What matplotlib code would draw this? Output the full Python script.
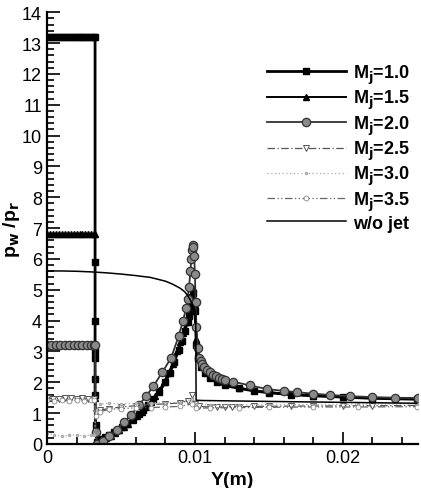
import matplotlib
matplotlib.use('Agg')
import matplotlib.pyplot as plt
from matplotlib.ticker import MultipleLocator, FixedLocator

plt.rcParams['font.family'] = ['Liberation Sans Narrow', 'Liberation Sans', 'DejaVu Sans']
plt.rcParams['mathtext.fontset'] = 'custom'
plt.rcParams['mathtext.rm'] = 'Liberation Sans Narrow:bold'
plt.rcParams['mathtext.it'] = 'Liberation Sans Narrow:bold'
plt.rcParams['mathtext.bf'] = 'Liberation Sans Narrow:bold'

# M=1.0 (square)
x_m10 = [0, 0.0002, 0.0004, 0.0006, 0.0008, 0.0010, 0.0012, 0.0014, 0.0016, 0.0018, 0.0020,
         0.0022, 0.0024, 0.0026, 0.0028, 0.0030, 0.0032, 0.00325, 0.00325, 0.00325, 0.00325,
         0.00325, 0.00325, 0.00325, 0.00328, 0.0034, 0.0036, 0.0039, 0.0042, 0.0045, 0.0048,
         0.0051, 0.0054, 0.0058, 0.0062, 0.0065, 0.0068, 0.0072, 0.0076, 0.0080, 0.0083,
         0.0086, 0.0089, 0.0091, 0.0093, 0.0095, 0.0096, 0.0097, 0.0098, 0.0099, 0.0100,
         0.0101, 0.0102, 0.0104, 0.0107, 0.0110, 0.0115, 0.0120, 0.0130, 0.0140, 0.0150,
         0.0165, 0.0180, 0.0200, 0.0220, 0.0250]
y_m10 = [13.2, 13.2, 13.2, 13.2, 13.2, 13.2, 13.2, 13.2, 13.2, 13.2, 13.2,
         13.2, 13.2, 13.2, 13.2, 13.2, 13.2, 13.2, 5.9, 4.0, 3.0, 2.8,
         2.1, 1.6, 0.6, 0.08, 0.15, 0.22, 0.3, 0.38, 0.46,
         0.55, 0.65, 0.8, 0.98, 1.1, 1.25, 1.45, 1.7, 2.0, 2.3,
         2.65, 3.05, 3.35, 3.65, 3.95, 4.15, 4.4, 4.75, 4.9, 4.3,
         3.2, 2.8, 2.5, 2.3, 2.15, 2.0, 1.9, 1.8, 1.72, 1.66,
         1.6, 1.56, 1.52, 1.48, 1.45]

# M=1.5 (triangle up)
x_m15 = [0, 0.0002, 0.0004, 0.0006, 0.0008, 0.0010, 0.0012, 0.0014, 0.0016, 0.0018, 0.0020,
         0.0022, 0.0024, 0.0026, 0.0028, 0.0030, 0.0032, 0.00325, 0.00325, 0.00328, 0.0034,
         0.0037, 0.0040, 0.0043, 0.0046, 0.0049, 0.0052, 0.0055, 0.0058, 0.0061, 0.0064,
         0.0067, 0.0070, 0.0073, 0.0076, 0.0079, 0.0082, 0.0085, 0.0088, 0.0090, 0.0092,
         0.0094, 0.0096, 0.0097, 0.0098, 0.0099, 0.0100, 0.0101, 0.0102, 0.0104, 0.0107,
         0.0110, 0.0115, 0.0120, 0.0130, 0.0140, 0.0150, 0.0165, 0.0180, 0.0200, 0.0220, 0.0250]
y_m15 = [6.8, 6.8, 6.8, 6.8, 6.8, 6.8, 6.8, 6.8, 6.8, 6.8, 6.8,
         6.8, 6.8, 6.8, 6.8, 6.8, 6.8, 6.8, 1.5, 0.4, 0.05,
         0.1, 0.18, 0.27, 0.36, 0.45, 0.55, 0.66, 0.78, 0.92, 1.05,
         1.2, 1.36, 1.55, 1.75, 2.0, 2.3, 2.6, 3.0, 3.3, 3.6,
         3.95, 4.35, 4.6, 4.9, 5.05, 4.5, 3.4, 2.9, 2.55, 2.35,
         2.2, 2.05, 1.95, 1.82, 1.74, 1.68, 1.62, 1.57, 1.53, 1.49, 1.46]

# M=2.0 (circle)
x_m20 = [0, 0.0003, 0.0006, 0.0009, 0.0012, 0.0015, 0.0018, 0.0021, 0.0024, 0.0027, 0.0030,
         0.0032, 0.00325, 0.00328, 0.0034, 0.0038, 0.0042, 0.0047, 0.0052, 0.0057, 0.0062,
         0.0067, 0.0072, 0.0078, 0.0084, 0.0089, 0.0092, 0.0094, 0.0095, 0.0096, 0.0097,
         0.00975, 0.0098, 0.00985, 0.0099, 0.00995, 0.0100, 0.01005, 0.0101, 0.0102, 0.0103,
         0.0104, 0.0105, 0.0106, 0.0108, 0.0110, 0.0112, 0.0114, 0.0116, 0.0118, 0.0120,
         0.0126, 0.0137, 0.0149, 0.0160, 0.0169, 0.0180, 0.0191, 0.0205, 0.0220, 0.0235, 0.0251]
y_m20 = [3.2, 3.2, 3.2, 3.2, 3.2, 3.2, 3.2, 3.2, 3.2, 3.2, 3.2,
         3.2, 3.2, 0.4, 0.0, 0.1, 0.25, 0.45, 0.7, 0.95, 1.25,
         1.55, 1.88, 2.33, 2.8, 3.5, 4.0, 4.4, 4.7, 5.1, 5.6,
         6.0, 6.3, 6.45, 6.4, 6.1, 5.5, 4.6, 3.8, 3.1, 2.8,
         2.68, 2.58, 2.5, 2.4, 2.32, 2.25, 2.2, 2.15, 2.11, 2.08,
         2.02, 1.9, 1.78, 1.72, 1.68, 1.63, 1.59, 1.55, 1.52, 1.5, 1.49]

# M=2.5 (open triangle down, dash-dot)
x_m25 = [0, 0.0004, 0.0008, 0.0012, 0.0016, 0.0020, 0.0024, 0.0028, 0.0032, 0.0033, 0.0036,
         0.0042, 0.0050, 0.0060, 0.0070, 0.0080, 0.0090, 0.0095, 0.0098, 0.0100, 0.0103,
         0.0110, 0.0115, 0.0120, 0.0125, 0.0130, 0.0140, 0.0150, 0.0165, 0.0180, 0.0200,
         0.0220, 0.0250]
y_m25 = [1.48, 1.47, 1.47, 1.48, 1.48, 1.47, 1.48, 1.47, 1.47, 1.0, 1.1,
         1.15, 1.2, 1.24, 1.28, 1.3, 1.33, 1.4, 1.58, 1.3, 1.22,
         1.2, 1.2, 1.2, 1.21, 1.21, 1.22, 1.22, 1.23, 1.23, 1.24,
         1.24, 1.25]

# M=3.0 (dotted)
x_m30 = [0, 0.0005, 0.0010, 0.0015, 0.0020, 0.0025, 0.0030, 0.0032, 0.0033, 0.0036, 0.0042,
         0.0050, 0.0060, 0.0070, 0.0080, 0.0090, 0.0098, 0.0101, 0.0110, 0.0130, 0.0150,
         0.0180, 0.0210, 0.0250]
y_m30 = [0.35, 0.3, 0.25, 0.28, 0.3, 0.25, 0.3, 0.3, 1.1, 1.3, 1.32,
         1.3, 1.32, 1.33, 1.34, 1.35, 1.45, 1.3, 1.27, 1.27, 1.28,
         1.28, 1.29, 1.3]

# M=3.5 (open circle, dash-dot-dot)
x_m35 = [0, 0.0005, 0.0010, 0.0015, 0.0020, 0.0025, 0.0030, 0.0032, 0.0033, 0.0036, 0.0042,
         0.0050, 0.0060, 0.0070, 0.0080, 0.0090, 0.0098, 0.0101, 0.0110, 0.0130, 0.0150,
         0.0180, 0.0210, 0.0250]
y_m35 = [1.42, 1.4, 1.42, 1.41, 1.42, 1.41, 1.42, 1.42, 0.9, 1.05, 1.12,
         1.15, 1.17, 1.18, 1.2, 1.22, 1.3, 1.16, 1.17, 1.18, 1.19,
         1.2, 1.2, 1.21]

# w/o jet
x_nojet = [0, 0.0010, 0.0020, 0.0030, 0.0040, 0.0050, 0.0060, 0.0070, 0.0080, 0.0085,
           0.0090, 0.0093, 0.0095, 0.0097, 0.0099, 0.01005, 0.01008, 0.0105, 0.0150,
           0.0200, 0.0250]
y_nojet = [5.61, 5.61, 5.6, 5.58, 5.55, 5.51, 5.46, 5.4, 5.28, 5.18,
           5.05, 4.94, 4.82, 4.66, 4.45, 4.3, 1.42, 1.41, 1.38,
           1.35, 1.32]

labels = [r'M$_{j}$=1.0', r'M$_{j}$=1.5', r'M$_{j}$=2.0', r'M$_{j}$=2.5',
          r'M$_{j}$=3.0', r'M$_{j}$=3.5', 'w/o jet']

fig = plt.figure(figsize=(4.21, 4.89), dpi=100)
ax = fig.add_axes([0.1116, 0.09, 0.882, 0.883])

ax.plot(x_m10, y_m10, '-', color='black', lw=2.0, marker='s', ms=4.5,
        mfc='black', mec='black', label=labels[0])
ax.plot(x_m15, y_m15, '-', color='black', lw=1.4, marker='^', ms=4.5,
        mfc='black', mec='black', label=labels[1])
ax.plot(x_m20, y_m20, '-', color='#333333', lw=1.3, marker='o', ms=6,
        mfc='#8a8a8a', mec='#333333', mew=0.9, label=labels[2])
ax.plot(x_m25, y_m25, color='#555555', lw=0.9, ls=(0, (6, 2, 1, 2)), marker='v', ms=5,
        mfc='white', mec='#555555', mew=0.7, label=labels[3])
ax.plot(x_m30, y_m30, color='#aaaaaa', lw=0.9, ls=(0, (1, 2)), marker='.', ms=3,
        mfc='white', mec='#aaaaaa', label=labels[4])
ax.plot(x_m35, y_m35, color='#666666', lw=0.9, ls=(0, (6, 2, 1, 2, 1, 2)), marker='o', ms=3.5,
        mfc='white', mec='#888888', mew=0.6, label=labels[5])
ax.plot(x_nojet, y_nojet, '-', color='black', lw=1.1, label=labels[6])

ax.set_xlim(0, 0.0251)
ax.set_ylim(0, 14)
ax.spines['top'].set_visible(False)
ax.spines['right'].set_visible(False)
for s in ('left', 'bottom'):
    ax.spines[s].set_linewidth(1.6)

ax.xaxis.set_major_locator(FixedLocator([0, 0.01, 0.02]))
ax.xaxis.set_minor_locator(MultipleLocator(0.002))
ax.yaxis.set_major_locator(MultipleLocator(1))
ax.yaxis.set_minor_locator(MultipleLocator(0.2))
ax.set_xticklabels(['0', '0.01', '0.02'])
ax.tick_params(which='both', direction='in', labelsize=13, width=1.2)
ax.tick_params(which='major', length=9)
ax.tick_params(which='minor', length=5)

ax.set_xlabel('Y(m)', fontsize=14, fontweight='bold', labelpad=4)
ax.set_ylabel(r'p$_w$ /p$_r$', fontsize=14, fontweight='bold', labelpad=0)

leg = ax.legend(loc='upper left', bbox_to_anchor=(0.572, 0.9), frameon=False,
                numpoints=1, handlelength=4.4, handletextpad=0.4, labelspacing=0.12,
                prop={'size': 13, 'weight': 'bold'}, borderaxespad=0)

fig.savefig('out.png', dpi=100)
